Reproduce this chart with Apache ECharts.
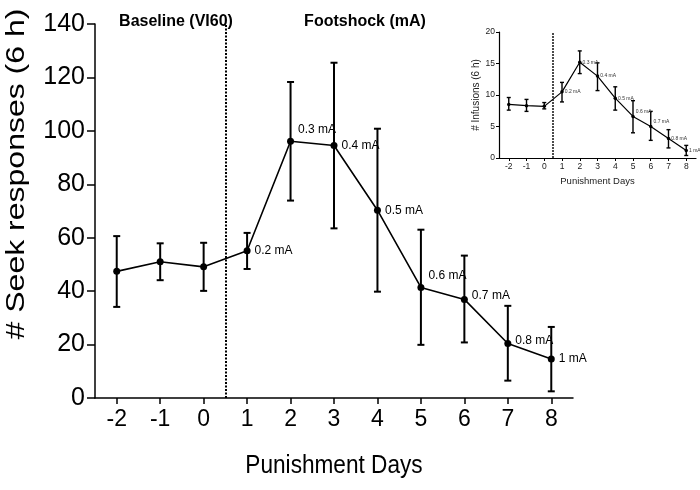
<!DOCTYPE html>
<html>
<head>
<meta charset="utf-8">
<script src="https://cdn.jsdelivr.net/npm/echarts@6/dist/echarts.min.js"></script>
<style>html,body{margin:0;padding:0;background:#fff}#c{width:700px;height:490px}</style>
</head>
<body>
<div id="c"></div>
<script>
// ---------- data ----------
var days = [-2, -1, 0, 1, 2, 3, 4, 5, 6, 7, 8];
var shockLabels = ['', '', '', '0.2 mA', '0.3 mA', '0.4 mA', '0.5 mA', '0.6 mA', '0.7 mA', '0.8 mA', '1 mA'];

var seekMean = [47.4, 51.0, 49.1, 55.1, 96.1, 94.5, 70.3, 41.4, 36.9, 20.4, 14.6];
var seekLow  = [34.1, 44.1, 40.1, 48.3, 73.9, 63.5, 39.8, 19.9, 20.8, 6.5, 2.5];
var seekHigh = [60.6, 57.9, 58.1, 61.8, 118.3, 125.5, 100.8, 63.0, 53.3, 34.5, 26.6];

var infMean = [8.5, 8.3, 8.2, 10.5, 15.2, 13.0, 9.5, 6.6, 5.0, 3.1, 1.2];
var infLow  = [7.6, 7.4, 7.8, 8.9, 13.4, 10.7, 7.6, 4.0, 2.8, 1.6, 0.4];
var infHigh = [9.6, 9.3, 8.8, 12.0, 17.0, 15.1, 11.3, 9.1, 7.4, 4.5, 2.0];

var phaseBoundary = 0.5;
var mainYTitle = '# Seek responses (6 h)';
var mainXTitle = 'Punishment Days';

// ---------- build ----------
var FONT = 'Liberation Sans, Arial, sans-serif';
var mainLift = {4: -12, 7: -12, 8: -4, 9: -3};
var insetLift = {7: -5, 8: -5};

function bars(low, high) { return days.map(function (d, i) { return [d, low[i], high[i]]; }); }

function labeled(mean, lift) {
  return days.map(function (d, i) {
    return {
      value: [d, mean[i]],
      label: { offset: [0, lift[i] || 0] }
    };
  });
}

function errRender(cap, width) {
  return function (params, api) {
    var x = api.value(0);
    var lo = api.coord([x, api.value(1)]);
    var hi = api.coord([x, api.value(2)]);
    var st = { stroke: '#000', lineWidth: width };
    return {
      type: 'group',
      children: [
        { type: 'line', shape: { x1: lo[0], y1: lo[1], x2: hi[0], y2: hi[1] }, style: st },
        { type: 'line', shape: { x1: lo[0] - cap, y1: lo[1], x2: lo[0] + cap, y2: lo[1] }, style: st },
        { type: 'line', shape: { x1: hi[0] - cap, y1: hi[1], x2: hi[0] + cap, y2: hi[1] }, style: st }
      ]
    };
  };
}

var chart = echarts.init(document.getElementById('c'), null, { renderer: 'canvas' });
chart.setOption({
  backgroundColor: '#ffffff',
  animation: false,
  textStyle: { fontFamily: FONT, color: '#000' },
  title: [
    { text: 'Baseline (VI60)', left: 171, top: 9, textAlign: 'center',
      textStyle: { fontFamily: FONT, fontSize: 16, fontWeight: 'bold', color: '#000' } },
    { text: 'Footshock (mA)', left: 360, top: 9, textAlign: 'center',
      textStyle: { fontFamily: FONT, fontSize: 16, fontWeight: 'bold', color: '#000' } }
  ],
  graphic: [
    { type: 'text', x: 17, y: 174, rotation: Math.PI / 2, scaleX: 1.28, silent: true,
      style: { text: mainYTitle, font: '25px ' + FONT, fill: '#000', align: 'center', verticalAlign: 'middle' } },
    { type: 'text', x: 334, y: 466, scaleX: 0.87, silent: true,
      style: { text: mainXTitle, font: '26px ' + FONT, fill: '#000', align: 'center', verticalAlign: 'middle' } }
  ],
  grid: [
    { left: 95, top: 24, width: 478, height: 374, outerBoundsMode: 'none', containLabel: false },
    { left: 499, top: 32, width: 197, height: 126, outerBoundsMode: 'none', containLabel: false }
  ],
  xAxis: [
    {
      gridIndex: 0, type: 'value', min: -2.5, max: 8.5,
      axisLine: { onZero: false, lineStyle: { color: '#000', width: 1.5 } },
      axisTick: { show: true, length: 6, lineStyle: { color: '#000', width: 1.5 }, customValues: days },
      axisLabel: { customValues: days, fontSize: 23, color: '#000', margin: 10, fontFamily: FONT },
      splitLine: { show: false }
    },
    {
      gridIndex: 1, type: 'value', min: -2.55, max: 8.55,
      name: 'Punishment Days', nameLocation: 'middle', nameGap: 18,
      nameTextStyle: { fontFamily: FONT, fontSize: 9.5, color: '#222' },
      axisLine: { onZero: false, lineStyle: { color: '#000', width: 1.2 } },
      axisTick: { show: true, length: 3, lineStyle: { color: '#000', width: 1 }, customValues: days },
      axisLabel: { customValues: days, fontSize: 8.5, color: '#222', margin: 4, fontFamily: FONT },
      splitLine: { show: false }
    }
  ],
  yAxis: [
    {
      gridIndex: 0, type: 'value', min: 0, max: 140, interval: 20,
      axisLine: { show: true, onZero: false, lineStyle: { color: '#000', width: 1.5 } },
      axisTick: { show: true, length: 8, lineStyle: { color: '#000', width: 1.5 } },
      axisLabel: { fontSize: 25, color: '#000', margin: 10, fontFamily: FONT },
      splitLine: { show: false }
    },
    {
      gridIndex: 1, type: 'value', min: 0, max: 20, interval: 5,
      name: '# Infusions (6 h)', nameLocation: 'middle', nameGap: 17,
      nameTextStyle: { fontFamily: FONT, fontSize: 10, color: '#222' },
      axisLine: { show: true, onZero: false, lineStyle: { color: '#000', width: 1.2 } },
      axisTick: { show: true, length: 3, lineStyle: { color: '#000', width: 1 } },
      axisLabel: { fontSize: 8.5, color: '#222', margin: 4, fontFamily: FONT },
      splitLine: { show: false }
    }
  ],
  series: [
    {
      type: 'custom', xAxisIndex: 0, yAxisIndex: 0, silent: true, z: 3,
      renderItem: errRender(3.5, 2),
      data: bars(seekLow, seekHigh),
      encode: { x: 0, y: [1, 2] }
    },
    {
      type: 'line', xAxisIndex: 0, yAxisIndex: 0, z: 4,
      data: labeled(seekMean, mainLift),
      symbol: 'circle', symbolSize: 7,
      itemStyle: { color: '#000' },
      lineStyle: { color: '#000', width: 1.6 },
      label: {
        show: true, position: 'right', distance: 4,
        fontFamily: FONT, fontSize: 12, color: '#000',
        formatter: function (p) { return shockLabels[p.dataIndex]; }
      },
      markLine: {
        silent: true, symbol: ['none', 'none'], label: { show: false },
        lineStyle: { color: '#000', width: 2, type: [2, 1.5] },
        data: [{ xAxis: phaseBoundary }]
      }
    },
    {
      type: 'custom', xAxisIndex: 1, yAxisIndex: 1, silent: true, z: 3,
      renderItem: errRender(2, 1.4),
      data: bars(infLow, infHigh),
      encode: { x: 0, y: [1, 2] }
    },
    {
      type: 'line', xAxisIndex: 1, yAxisIndex: 1, z: 4,
      data: labeled(infMean, insetLift),
      symbol: 'circle', symbolSize: 3.5,
      itemStyle: { color: '#000' },
      lineStyle: { color: '#000', width: 1.2 },
      label: {
        show: true, position: 'right', distance: 1,
        fontFamily: FONT, fontSize: 5, color: '#333',
        formatter: function (p) { return shockLabels[p.dataIndex]; }
      },
      markLine: {
        silent: true, symbol: ['none', 'none'], label: { show: false },
        lineStyle: { color: '#111', width: 1.5, type: [2, 1] },
        data: [{ xAxis: phaseBoundary }]
      }
    }
  ]
});
</script>
</body>
</html>
